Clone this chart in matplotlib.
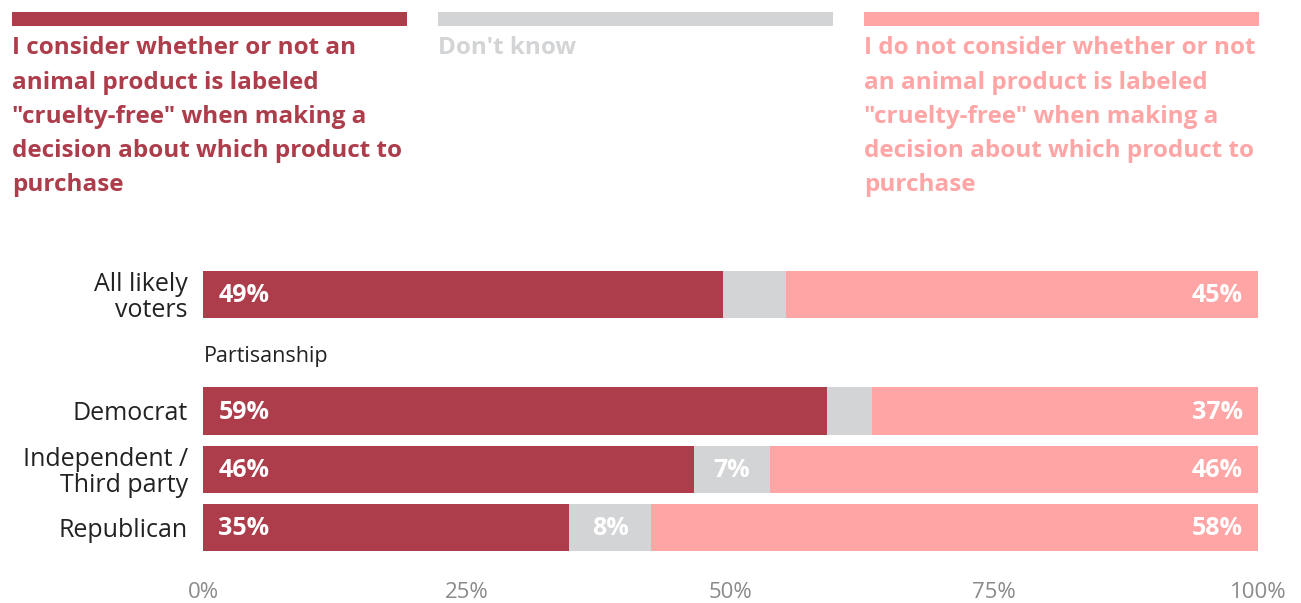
import matplotlib
matplotlib.use("Agg")
import matplotlib.pyplot as plt
from matplotlib.patches import Rectangle

plt.rcParams['font.family'] = ['Open Sans', 'DejaVu Sans']

categories = ["All likely\nvoters", "Democrat", "Independent /\nThird party", "Republican"]
positions = [0, 2, 3, 4]
consider = [49.3, 59.1, 46.5, 34.7]
dont_know = [6.0, 4.3, 7.2, 7.8]
not_consider = [44.7, 36.6, 46.3, 57.5]
consider_lbl = ["49%", "59%", "46%", "35%"]
dk_lbl = ["", "", "7%", "8%"]
not_lbl = ["45%", "37%", "46%", "58%"]
xticks = [0, 25, 50, 75, 100]
xtick_labels = ["0%", "25%", "50%", "75%", "100%"]
legend_labels = [
    "I consider whether or not an\nanimal product is labeled\n\"cruelty-free\" when making a\ndecision about which product to\npurchase",
    "Don't know",
    "I do not consider whether or not\nan animal product is labeled\n\"cruelty-free\" when making a\ndecision about which product to\npurchase",
]

RED = "#AD3D4B"
GRAY = "#D3D4D6"
PINK = "#FFA5A5"
colors = [RED, GRAY, PINK]

W, H = 1301, 603
fig = plt.figure(figsize=(W / 100, H / 100), dpi=100)
ax = fig.add_axes([203 / W, 1 - 557 / H, 1055 / W, 292 / H])

bh = 0.81
ax.barh(positions, consider, height=bh, color=RED, linewidth=0)
left2 = [a for a in consider]
ax.barh(positions, dont_know, left=left2, height=bh, color=GRAY, linewidth=0)
left3 = [a + b for a, b in zip(consider, dont_know)]
ax.barh(positions, not_consider, left=left3, height=bh, color=PINK, linewidth=0)

VF = 18
for p, c, d, n, cl, dl, nl in zip(positions, consider, dont_know, not_consider,
                                   consider_lbl, dk_lbl, not_lbl):
    ax.text(1.45, p + 0.02, cl, color="white", fontsize=VF, fontweight="bold",
            ha="left", va="center")
    if dl:
        ax.text(c + d / 2, p + 0.02, dl, color="white", fontsize=VF, fontweight="bold",
                ha="center", va="center")
    ax.text(100 - 1.45, p + 0.02, nl, color="white", fontsize=VF, fontweight="bold",
            ha="right", va="center")

ax.text(0.1, 1.07, "Partisanship", color="#222222", fontsize=15.5, ha="left", va="center")

ax.set_xlim(0, 100)
ax.set_ylim(4.5, -0.5)
ax.set_yticks(positions)
ax.set_yticklabels(categories, fontsize=18, color="#222222", linespacing=1.05)
ax.set_xticks(xticks)
ax.set_xticklabels(xtick_labels, fontsize=16, color="#8A8A8A")
ax.tick_params(axis="both", length=0)
ax.tick_params(axis="y", pad=11)
ax.tick_params(axis="x", pad=18)
for s in ax.spines.values():
    s.set_visible(False)

# legend
lx = [12, 438, 864]
lw = 395
for x0, col, lab in zip(lx, colors, legend_labels):
    fig.patches.append(Rectangle((x0 / W, 1 - 26 / H), lw / W, 14 / H,
                                 transform=fig.transFigure, color=col, linewidth=0))
    fig.text(x0 / W, 1 - 36.5 / H, lab, color=col, fontsize=17.5, fontweight="bold",
             ha="left", va="top", linespacing=1.56)

fig.savefig("out.png", dpi=100)
